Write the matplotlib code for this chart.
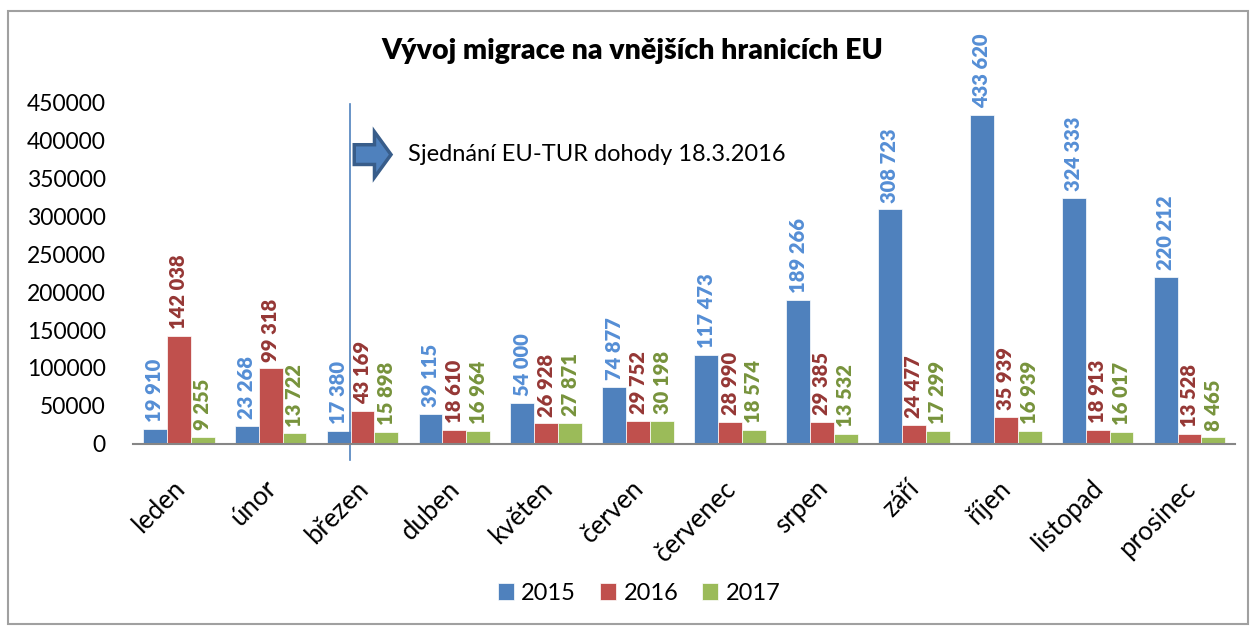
import numpy as np
import matplotlib.pyplot as plt
import matplotlib.transforms as mtransforms
from matplotlib.patches import FancyArrow, Rectangle

plt.rcParams['font.family'] = ['Lato', 'DejaVu Sans']

months = ['leden', 'únor', 'březen', 'duben', 'květen', 'červen',
          'červenec', 'srpen', 'září', 'říjen', 'listopad', 'prosinec']
y2015 = [19910, 23268, 17380, 39115, 54000, 74877, 117473, 189266, 308723, 433620, 324333, 220212]
y2016 = [142038, 99318, 43169, 18610, 26928, 29752, 28990, 29385, 24477, 35939, 18913, 13528]
y2017 = [9255, 13722, 15898, 16964, 27871, 30198, 18574, 13532, 17299, 16939, 16017, 8465]
years = ['2015', '2016', '2017']
agreement_x = 1.86  # 18.3.2016 position in the month axis
note = 'Sjednání EU-TUR dohody 18.3.2016'

bar_colors = ['#4F81BD', '#C0504D', '#9BBB59']
label_colors = ['#558ED5', '#953735', '#77933C']

fig = plt.figure(figsize=(12.53, 6.27), dpi=100)
ax = fig.add_axes([0.106, 0.292, 0.880, 0.545])

x = np.arange(len(months))
w = 0.26
for i, (vals, yr) in enumerate(zip([y2015, y2016, y2017], years)):
    pos = x + (i - 1) * w
    ax.bar(pos, vals, w, color=bar_colors[i], label=yr, edgecolor='white', linewidth=0.5)
    for px, v in zip(pos, vals):
        ax.annotate(f'{v:,}'.replace(',', ' '), (px, v), xytext=(0, 5),
                    textcoords='offset points', rotation=90, ha='center', va='bottom',
                    fontsize=14.5, fontweight='heavy', color=label_colors[i])

ax.set_xlim(-0.5, len(months) - 0.5)
ax.set_ylim(0, 450000)
ax.set_yticks(np.arange(0, 450001, 50000))
ax.tick_params(axis='y', length=0, labelsize=16.5, pad=19.5)
ax.tick_params(axis='x', length=0, labelsize=18.5, pad=10)
ax.set_xticks(x)
ax.set_xticklabels(months, rotation=45, ha='right', rotation_mode='anchor')
shift = mtransforms.ScaledTranslation(-0.07, -0.18, fig.dpi_scale_trans)
for lbl in ax.get_xticklabels():
    lbl.set_transform(lbl.get_transform() + shift)
for s in ['top', 'right', 'left']:
    ax.spines[s].set_visible(False)
ax.spines['bottom'].set_color('#868686')
ax.spines['bottom'].set_linewidth(1.5)

# agreement marker
ax.plot([agreement_x, agreement_x], [-21000, 448000], color='#4F81BD', lw=1.2, clip_on=False)
ax.add_patch(FancyArrow(1.91, 381000, 0.22, 0, width=26000, head_width=60000,
                        head_length=0.18, length_includes_head=False,
                        facecolor='#4F81BD', edgecolor='#385D8A', lw=2.5, clip_on=False))
ax.text(2.5, 381000, note, fontsize=17, va='center', ha='left')

fig.text(0.505, 0.918, 'Vývoj migrace na vnějších hranicích EU', ha='center', va='center',
         fontsize=20.5, fontweight='heavy')

fig.legend(loc='center', bbox_to_anchor=(0.51, 0.054), ncol=3, frameon=False,
           fontsize=17, handlelength=0.7, handleheight=0.7, handletextpad=0.3,
           columnspacing=1.0)

fig.patches.append(Rectangle((8 / 1253, 0.005), 0.99, 0.978, transform=fig.transFigure,
                             fill=False, edgecolor='#A0A0A0', lw=1.5))

fig.savefig('out.png', dpi=100)
